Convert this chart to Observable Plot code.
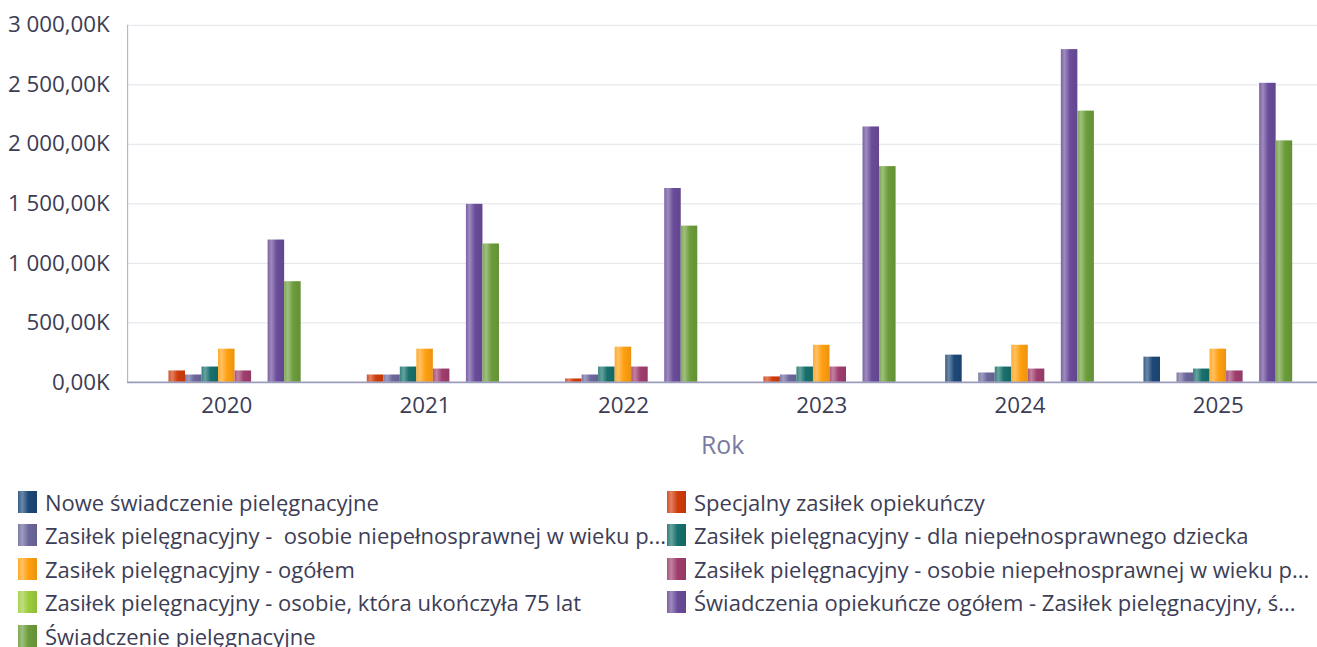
<!DOCTYPE html>
<html><head><meta charset="utf-8">
<script src="https://cdn.jsdelivr.net/npm/d3@7"></script>
<script src="https://cdn.jsdelivr.net/npm/@observablehq/plot@0.6"></script>
<style>
html,body{margin:0;padding:0;background:#fff;overflow:hidden;font-family:"Open Sans",sans-serif;}
#wrap{position:relative;width:1317px;height:647px;overflow:hidden;}
#chart{position:absolute;left:0;top:0;width:1317px;height:470px;overflow:hidden;}
#chart svg{display:block;}
#legend{position:absolute;left:18px;top:485px;display:grid;grid-template-columns:649px 650px;width:1299px;height:162px;overflow:hidden;}
.item{display:flex;align-items:center;height:33.5px;white-space:pre;overflow:hidden;font-size:22px;color:#3d3d55;}
.sw{width:19px;height:22px;margin-right:8px;flex:none;}
</style></head>
<body>
<div id="wrap">
<div id="chart"></div>
<div id="legend"></div>
</div>
<script>
const years = ["2020","2021","2022","2023","2024","2025"];
const seriesNames = [
  "Nowe świadczenie pielęgnacyjne",
  "Specjalny zasiłek opiekuńczy",
  "Zasiłek pielęgnacyjny -  osobie niepełnosprawnej w wieku p...",
  "Zasiłek pielęgnacyjny - dla niepełnosprawnego dziecka",
  "Zasiłek pielęgnacyjny - ogółem",
  "Zasiłek pielęgnacyjny - osobie niepełnosprawnej w wieku p...",
  "Zasiłek pielęgnacyjny - osobie, która ukończyła 75 lat",
  "Świadczenia opiekuńcze ogółem - Zasiłek pielęgnacyjny, ś...",
  "Świadczenie pielęgnacyjne"
];
const seriesColors = ["#1c4878","#d03c0a","#6c689c","#17706c","#ffa010","#a03e6e","#9ccc3c","#6a4c9a","#6c9c3a"];
// values in thousands (K)
const nowe      = [null, null, null, null, 229, 212];
const specjalny = [96, 62, 29, 46, null, null];
const zpWiekuA  = [62, 62, 62, 62, 79, 79];
const zpDziecko = [129, 129, 129, 129, 129, 112];
const zpOgolem  = [279, 279, 296, 312, 312, 279];
const zpWiekuB  = [96, 112, 129, 129, 112, 96];
const zp75      = [null, null, null, null, null, null];
const swOpiek   = [1196, 1496, 1629, 2146, 2796, 2513];
const swPiel    = [846, 1163, 1313, 1813, 2279, 2029];
const seriesValues = [nowe, specjalny, zpWiekuA, zpDziecko, zpOgolem, zpWiekuB, zp75, swOpiek, swPiel];
const yTicks = [0, 500, 1000, 1500, 2000, 2500, 3000];

const W = 1326, H = 470, ML = 128, MR = 0, MT = 25, MB = 85.5;
const pIn = 0.25, pOut = 0.125;
const step = (W - ML - MR) / (years.length - pIn + 2 * pOut);
const bw = step * (1 - pIn);
const slot = bw / seriesNames.length;

const loc = d3.formatLocale({decimal: ",", thousands: " ", grouping: [3], currency: ["", ""]});
const fmt = loc.format(",.2f");

const gid = i => "grad" + i;
const barMarks = seriesValues.map((vals, i) => {
  const data = years.map((y, j) => ({year: y, value: vals[j]})).filter(d => d.value != null);
  return Plot.barY(data, {
    x: "year", y: "value", fill: `url(#${gid(i)})`,
    insetLeft: i * slot, insetRight: (seriesNames.length - 1 - i) * slot
  });
});

const svg = Plot.plot({
  width: W, height: H,
  marginLeft: ML, marginRight: MR, marginTop: MT, marginBottom: MB,
  style: {fontFamily: "'Open Sans', sans-serif", fontSize: "22px", color: "#3c3c55", background: "#fff"},
  x: {type: "band", domain: years, paddingInner: pIn, paddingOuter: pOut, round: false},
  y: {domain: [0, 3000], ticks: yTicks},
  marks: [
    Plot.ruleY(yTicks.slice(1), {stroke: "#e2e2ea", strokeWidth: 1}),
    Plot.frame({anchor: "left", stroke: "#a8a8c8"}),
    ...barMarks,
    Plot.ruleY([0], {stroke: "#9c9cbc", strokeWidth: 2}),
    Plot.axisY({ticks: yTicks, tickSize: 0, tickPadding: 18, tickFormat: d => fmt(d) + "K", label: null, fontSize: 22.5, fill: "#3c3c55"}),
    Plot.axisX({tickSize: 0, tickPadding: 15, label: null, fontSize: 22.5, fill: "#3c3c55"}),
    Plot.text(["Rok"], {frameAnchor: "bottom", dy: 64.5, fontSize: 25, fill: "#7a7aa0", lineAnchor: "middle", textAnchor: "middle"})
  ]
});

// gradients for cylinder-like bars
const defs = d3.select(svg).insert("defs", ":first-child");
seriesColors.forEach((c, i) => {
  const g = defs.append("linearGradient").attr("id", gid(i)).attr("x1", "0").attr("x2", "1").attr("y1", "0").attr("y2", "0");
  const light = d3.interpolateRgb(c, "#ffffff");
  const dark = d3.interpolateRgb(c, "#000000");
  [[0, light(0.12)], [0.22, light(0.35)], [0.55, c], [1, dark(0.08)]].forEach(([o, col]) =>
    g.append("stop").attr("offset", o).attr("stop-color", col));
});
document.getElementById("chart").appendChild(svg);

// legend
const leg = document.getElementById("legend");
seriesNames.forEach((name, i) => {
  const c = seriesColors[i];
  const light = d3.interpolateRgb(c, "#ffffff");
  const dark = d3.interpolateRgb(c, "#000000");
  const item = document.createElement("div");
  item.className = "item";
  const sw = document.createElement("span");
  sw.className = "sw";
  sw.style.background = `linear-gradient(to right, ${light(0.12)} 0%, ${light(0.35)} 22%, ${c} 55%, ${dark(0.08)} 100%)`;
  const t = document.createElement("span");
  t.textContent = name;
  item.appendChild(sw); item.appendChild(t);
  leg.appendChild(item);
});
</script>
</body></html>
